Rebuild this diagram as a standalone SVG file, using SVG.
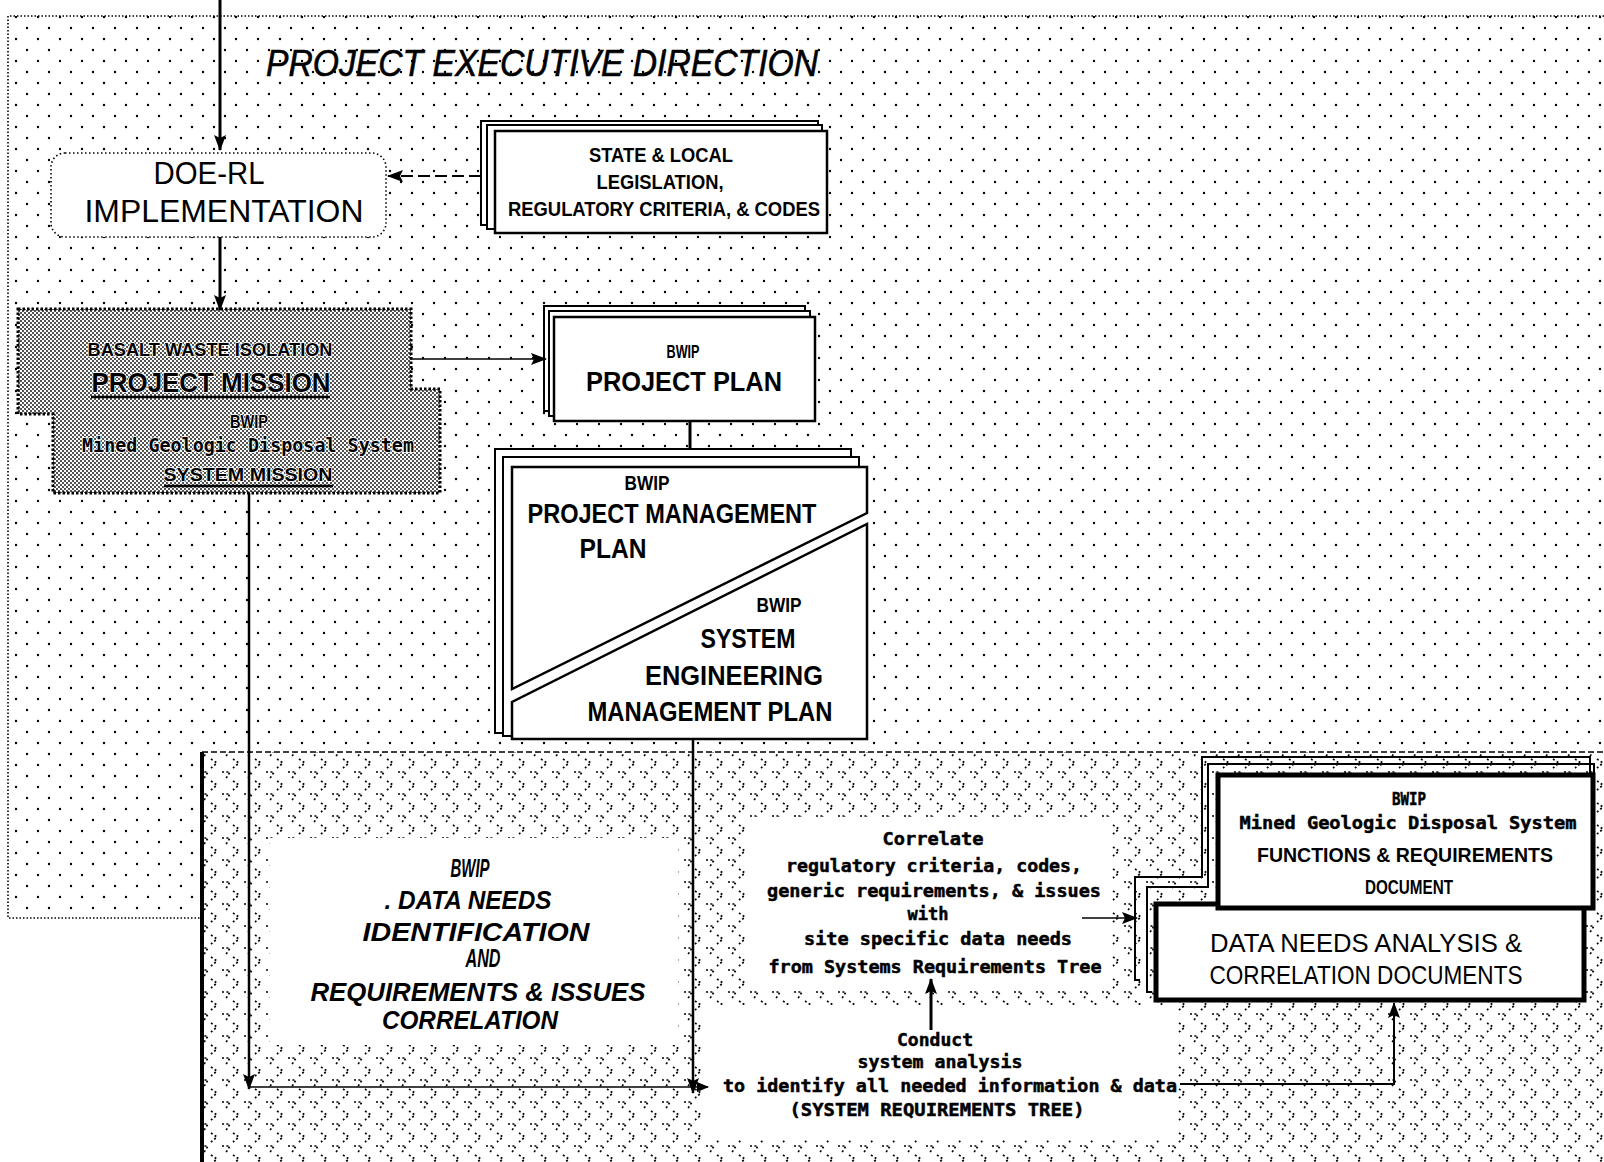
<svg xmlns="http://www.w3.org/2000/svg" width="1604" height="1162" viewBox="0 0 1604 1162">
  <defs>
    <!-- sparse staggered dot screen for the executive-direction field -->
    <pattern id="dots" width="22" height="22" patternUnits="userSpaceOnUse">
      <circle cx="5" cy="6" r="1.2" fill="#000"/>
      <circle cx="16" cy="17" r="1.2" fill="#000"/>
    </pattern>
    <!-- dense halftone for the mission blocks -->
    <pattern id="screen" width="4" height="4" patternUnits="userSpaceOnUse">
      <rect width="4" height="4" fill="#fff"/>
      <circle cx="1" cy="1" r="0.9" fill="#000"/>
      <circle cx="3" cy="3" r="0.9" fill="#000"/>
    </pattern>
    <!-- dotted zig-zag texture for the analysis field -->
    <pattern id="zig" width="22" height="22" patternUnits="userSpaceOnUse">
      <path d="M2,2 H10 L5,10 M13,11 L19,15 L13,20" fill="none" stroke="#000" stroke-width="1.7" stroke-dasharray="2 2.4"/>
    </pattern>
    <marker id="ah" viewBox="0 0 16 12" refX="15" refY="6" markerWidth="16" markerHeight="12" markerUnits="userSpaceOnUse" orient="auto">
      <path d="M0,0 L16,6 L0,12 L3,6 Z" fill="#000"/>
    </marker>
    <marker id="ahs" viewBox="0 0 12 10" refX="11" refY="5" markerWidth="12" markerHeight="10" markerUnits="userSpaceOnUse" orient="auto">
      <path d="M0,0 L12,5 L0,10 Z" fill="#000"/>
    </marker>
  </defs>
  <style>
    .thin { font-family: "Liberation Sans", Arial, sans-serif; font-weight: 400; fill: #000; }
    .bold { font-family: "Liberation Sans", Arial, sans-serif; font-weight: 700; fill: #000; }
    .mono { font-family: "DejaVu Sans Mono", "Liberation Mono", monospace; font-weight: 700; fill: #000; stroke: #000; stroke-width: 0.5; }
    .ital { font-style: italic; }
    .mid { text-anchor: middle; }
    .halo { stroke: #fff; stroke-width: 1.6; paint-order: stroke; stroke-linejoin: round; }
    .box { fill: #fff; stroke: #000; stroke-width: 2.5; }
    .back { fill: #fff; stroke: #000; stroke-width: 2; }
    .heavy { fill: #fff; stroke: #000; stroke-width: 5; }
    .wire { fill: none; stroke: #000; }
  </style>

  <rect width="1604" height="1162" fill="#fff"/>

  <!-- executive direction field (dotted) -->
  <g id="executive-field">
    <path d="M8,16 H1604 V752 H200 V918 H8 Z" fill="url(#dots)"/>
    <path d="M1604,16 H8 V918 H200" fill="none" stroke="#000" stroke-width="1.6" stroke-dasharray="1.5 2"/>
    <text class="thin ital mid" x="542" y="76" font-size="36" textLength="552" lengthAdjust="spacingAndGlyphs" stroke="#000" stroke-width="0.6">PROJECT EXECUTIVE DIRECTION</text>
  </g>

  <!-- analysis field (zig-zag texture) -->
  <g id="analysis-field">
    <rect x="202" y="752" width="1402" height="410" fill="url(#zig)"/>
    <line x1="202" y1="752" x2="1604" y2="752" stroke="#000" stroke-width="1.6" stroke-dasharray="6 3"/>
    <line x1="202" y1="752" x2="202" y2="1162" stroke="#000" stroke-width="4"/>
  </g>

  <g id="doe-rl">
    <rect x="51" y="153" width="335" height="84" rx="14" fill="#fff" stroke="#000" stroke-width="1.6" stroke-dasharray="1.5 2.5"/>
    <text class="thin mid" x="209" y="184" font-size="32" textLength="111" lengthAdjust="spacingAndGlyphs">DOE-RL</text>
    <text class="thin mid" x="224" y="222" font-size="32" textLength="279" lengthAdjust="spacingAndGlyphs">IMPLEMENTATION</text>
  </g>

  <g id="state-local">
    <rect class="back" x="481" y="121" width="337" height="104"/>
    <rect class="back" x="487" y="125" width="335" height="104"/>
    <rect class="box" x="495" y="131" width="332" height="102"/>
    <text class="bold mid" x="661" y="162" font-size="21" textLength="144" lengthAdjust="spacingAndGlyphs">STATE &amp; LOCAL</text>
    <text class="bold mid" x="660" y="189" font-size="21" textLength="127" lengthAdjust="spacingAndGlyphs">LEGISLATION,</text>
    <text class="bold mid" x="664" y="216" font-size="21" textLength="312" lengthAdjust="spacingAndGlyphs">REGULATORY CRITERIA, &amp; CODES</text>
  </g>

  <g id="mission">
    <path d="M18,309 H411 V389 H440 V493 H53 V414 H18 Z" fill="url(#screen)" stroke="#000" stroke-width="3" stroke-dasharray="2.5 2"/>
    <text class="bold mid halo" x="210" y="356" font-size="19" textLength="245" lengthAdjust="spacingAndGlyphs">BASALT WASTE ISOLATION</text>
    <text class="bold mid halo" x="211" y="392" font-size="28" textLength="239" lengthAdjust="spacingAndGlyphs">PROJECT MISSION</text>
    <line x1="91" y1="397" x2="330" y2="397" stroke="#000" stroke-width="2.5"/>
    <text class="bold mid halo" x="249" y="428" font-size="19" textLength="38" lengthAdjust="spacingAndGlyphs">BWIP</text>
    <text class="mono mid halo" x="248" y="452" font-size="19" textLength="332" lengthAdjust="spacingAndGlyphs">Mined Geologic Disposal System</text>
    <text class="bold mid halo" x="248" y="481" font-size="19" textLength="169" lengthAdjust="spacingAndGlyphs">SYSTEM MISSION</text>
    <line x1="164" y1="486" x2="333" y2="486" stroke="#000" stroke-width="2.5"/>
  </g>

  <g id="project-plan">
    <rect class="back" x="544" y="306" width="261" height="105"/>
    <rect class="back" x="549" y="311" width="261" height="105"/>
    <rect class="box" x="554" y="317" width="261" height="104"/>
    <text class="bold mid" x="683" y="358" font-size="19" textLength="33" lengthAdjust="spacingAndGlyphs">BWIP</text>
    <text class="bold mid" x="684" y="391" font-size="27" textLength="196" lengthAdjust="spacingAndGlyphs">PROJECT PLAN</text>
  </g>

  <g id="management-plans">
    <rect class="back" x="495" y="449" width="356" height="284"/>
    <rect class="back" x="503" y="457" width="356" height="279"/>
    <rect x="512" y="467" width="355" height="272" fill="#fff"/>
    <path class="box" d="M512,467 H867 V513 L512,689 Z"/>
    <path class="box" d="M867,524 V739 H512 V702 Z"/>
    <text class="bold mid" x="647" y="490" font-size="21" textLength="45" lengthAdjust="spacingAndGlyphs">BWIP</text>
    <text class="bold mid" x="672" y="523" font-size="27" textLength="289" lengthAdjust="spacingAndGlyphs">PROJECT MANAGEMENT</text>
    <text class="bold mid" x="613" y="558" font-size="27" textLength="67" lengthAdjust="spacingAndGlyphs">PLAN</text>
    <text class="bold mid" x="779" y="612" font-size="21" textLength="45" lengthAdjust="spacingAndGlyphs">BWIP</text>
    <text class="bold mid" x="748" y="648" font-size="27" textLength="95" lengthAdjust="spacingAndGlyphs">SYSTEM</text>
    <text class="bold mid" x="734" y="685" font-size="27" textLength="178" lengthAdjust="spacingAndGlyphs">ENGINEERING</text>
    <text class="bold mid" x="710" y="721" font-size="27" textLength="245" lengthAdjust="spacingAndGlyphs">MANAGEMENT PLAN</text>
  </g>

  <g id="data-needs-identification">
    <rect x="270" y="838" width="408" height="207" fill="#fff"/>
    <text class="bold ital mid" x="470" y="877" font-size="25" textLength="39" lengthAdjust="spacingAndGlyphs">BWIP</text>
    <text class="bold ital mid" x="468" y="909" font-size="25" textLength="167" lengthAdjust="spacingAndGlyphs">. DATA NEEDS</text>
    <text class="bold ital mid" x="476" y="941" font-size="25" textLength="227" lengthAdjust="spacingAndGlyphs">IDENTIFICATION</text>
    <text class="bold ital mid" x="483" y="967" font-size="25" textLength="35" lengthAdjust="spacingAndGlyphs">AND</text>
    <text class="bold ital mid" x="478" y="1001" font-size="25" textLength="335" lengthAdjust="spacingAndGlyphs">REQUIREMENTS &amp; ISSUES</text>
    <text class="bold ital mid" x="470" y="1029" font-size="25" textLength="176" lengthAdjust="spacingAndGlyphs">CORRELATION</text>
  </g>

  <g id="correlate">
    <rect x="747" y="817" width="365" height="173" fill="#fff"/>
    <text class="mono mid" x="933" y="845" font-size="18" textLength="101" lengthAdjust="spacingAndGlyphs">Correlate</text>
    <text class="mono mid" x="934" y="872" font-size="18" textLength="296" lengthAdjust="spacingAndGlyphs">regulatory criteria, codes,</text>
    <text class="mono mid" x="934" y="897" font-size="18" textLength="334" lengthAdjust="spacingAndGlyphs">generic requirements, &amp; issues</text>
    <text class="mono mid" x="928" y="920" font-size="18" textLength="41" lengthAdjust="spacingAndGlyphs">with</text>
    <text class="mono mid" x="938" y="945" font-size="18" textLength="268" lengthAdjust="spacingAndGlyphs">site specific data needs</text>
    <text class="mono mid" x="935" y="973" font-size="18" textLength="333" lengthAdjust="spacingAndGlyphs">from Systems Requirements Tree</text>
  </g>

  <g id="conduct">
    <rect x="705" y="1005" width="473" height="135" fill="#fff"/>
    <text class="mono mid" x="935" y="1046" font-size="18" textLength="76" lengthAdjust="spacingAndGlyphs">Conduct</text>
    <text class="mono mid" x="940" y="1068" font-size="18" textLength="165" lengthAdjust="spacingAndGlyphs">system analysis</text>
    <text class="mono mid" x="950" y="1092" font-size="18" textLength="454" lengthAdjust="spacingAndGlyphs">to identify all needed information &amp; data</text>
    <text class="mono mid" x="937" y="1116" font-size="18" textLength="295" lengthAdjust="spacingAndGlyphs">(SYSTEM REQUIREMENTS TREE)</text>
  </g>

  <g id="documents">
    <path class="wire" stroke-width="2" d="M1140,980 H1135 V877 H1202 V757 H1590 V775"/>
    <path class="wire" stroke-width="2" d="M1152,992 H1147 V887 H1208 V764 H1594 V775"/>
    <rect class="heavy" x="1156" y="904" width="428" height="96"/>
    <rect class="heavy" x="1218" y="775" width="375" height="133"/>
    <text class="mono mid" x="1409" y="805" font-size="18" textLength="34" lengthAdjust="spacingAndGlyphs">BWIP</text>
    <text class="mono mid" x="1408" y="829" font-size="18" textLength="337" lengthAdjust="spacingAndGlyphs">Mined Geologic Disposal System</text>
    <text class="bold mid" x="1405" y="862" font-size="20" textLength="296" lengthAdjust="spacingAndGlyphs">FUNCTIONS &amp; REQUIREMENTS</text>
    <text class="bold mid" x="1409" y="894" font-size="20" textLength="88" lengthAdjust="spacingAndGlyphs">DOCUMENT</text>
    <text class="thin mid" x="1366" y="952" font-size="25" textLength="312" lengthAdjust="spacingAndGlyphs">DATA NEEDS ANALYSIS &amp;</text>
    <text class="thin mid" x="1366" y="984" font-size="25" textLength="313" lengthAdjust="spacingAndGlyphs">CORRELATION DOCUMENTS</text>
  </g>

  <g id="connectors" fill="none" stroke="#000">
    <line x1="220" y1="0" x2="220" y2="150" stroke-width="3" marker-end="url(#ah)"/>
    <line x1="220" y1="237" x2="220" y2="310" stroke-width="3" marker-end="url(#ah)"/>
    <line x1="481" y1="176" x2="388" y2="176" stroke-width="2" stroke-dasharray="12 5" marker-end="url(#ah)"/>
    <line x1="411" y1="359" x2="546" y2="359" stroke-width="1.6" marker-end="url(#ah)"/>
    <line x1="690" y1="421" x2="690" y2="449" stroke-width="3"/>
    <line x1="249" y1="493" x2="249" y2="1089" stroke-width="2.5" marker-end="url(#ah)"/>
    <line x1="249" y1="1087" x2="708" y2="1087" stroke-width="1.6" marker-end="url(#ahs)"/>
    <line x1="693" y1="739" x2="693" y2="1093" stroke-width="2.5" marker-end="url(#ah)"/>
    <line x1="931" y1="1030" x2="931" y2="979" stroke-width="3" marker-end="url(#ah)"/>
    <line x1="1082" y1="918" x2="1137" y2="918" stroke-width="1.6" marker-end="url(#ah)"/>
    <polyline points="1180,1084 1394,1084 1394,1003" stroke-width="2" marker-end="url(#ah)"/>
  </g>
</svg>
